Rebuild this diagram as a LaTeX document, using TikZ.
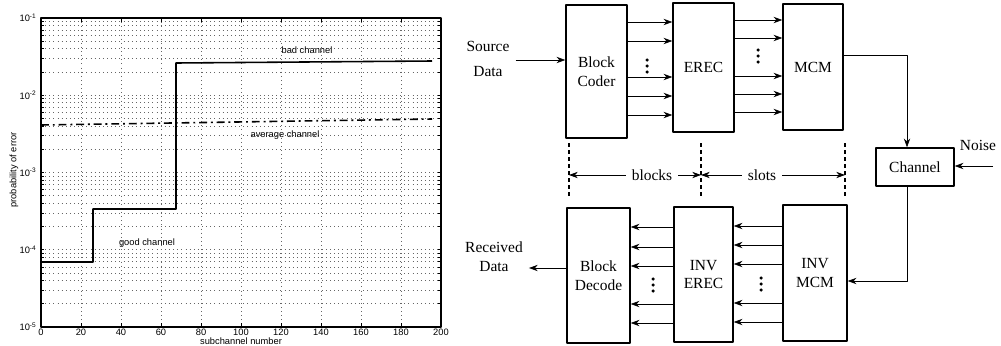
\documentclass[tikz,border=0pt]{standalone}
\usepackage{fontspec}
\setmainfont{Liberation Serif}
\newfontfamily\plotfont{Liberation Sans}
\usetikzlibrary{arrows.meta,calc}
\usetikzlibrary{positioning}
\tikzset{blk/.style={draw,line width=0.8pt,align=center,inner sep=0pt,minimum width=1.22cm,minimum height=2.62cm},
  gridln/.style={dotted,black!60,line width=0.35pt},
  plotlab/.style={font=\plotfont\fontsize{5.3}{6}\selectfont,inner sep=0pt}}

\begin{document}
\begin{tikzpicture}[x=0.02cm,y=-0.02cm,>={Stealth[length=5pt,width=3.6pt]},line join=round,font=\fontsize{8.8}{10.8}\selectfont]
\useasboundingbox (0,0) rectangle (1001,345);
% --- left: error probability of each subchannel (log scale)
\foreach \k in {-5,...,-2} \foreach \m in {1,...,9}
  \draw[gridln] (41,{327-77.25*(\k+5+log10(\m))}) -- (441,{327-77.25*(\k+5+log10(\m))});
\foreach \x in {20,40,...,180} \draw[gridln] ({41+2*\x},18) -- ({41+2*\x},327);
\foreach \k in {-5,...,-2} \foreach \m in {1,...,9}
  \draw (41,{327-77.25*(\k+5+log10(\m))}) -- ++(3,0) (441,{327-77.25*(\k+5+log10(\m))}) -- ++(-3,0);
\foreach \x in {0,20,...,200} {\draw ({41+2*\x},327) -- ++(0,-4) ({41+2*\x},18) -- ++(0,4);
  \node[plotlab] (xt\x) at ({41+2*\x},332.5) {\x};}
\foreach \k/\e in {0/5,1/4,2/3,3/2,4/1} \node[plotlab,anchor=east] (yt\e) at (37,{327-77.25*\k}) {10\textsuperscript{-\e}};
\draw[line width=0.8pt] (41,18) rectangle (441,327);
\draw[line width=0.9pt] (41,262) -- (93,262) -- (93,209) -- (176,209) -- (176,63) -- (432,61);
\draw[line width=0.9pt,dash pattern=on 4.5pt off 2.2pt on 1.1pt off 2.2pt] (41,125) -- (432,119);
\node[plotlab] (bad) at (307,50) {bad channel};
\node[plotlab] (avg) at (285,135) {average channel};
\node[plotlab] (good) at (147,243) {good channel};
\node[plotlab,rotate=90] (ylab) at (14,170) {probability of error};
\node[plotlab] (xlab) at (241,341.5) {subchannel number};
% --- right: transmitter, channel and receiver
\node[blk,minimum height=2.66cm] (coder) at (596.5,71.5) {Block\\Coder};
\node[blk,minimum height=2.58cm] (erec) at (703.5,67.5) {EREC};
\node[blk,minimum width=1.2cm,minimum height=2.52cm] (mcm) at (813,67) {MCM};
\node[blk,minimum width=1.26cm,minimum height=2.7cm] (decode) at (598.5,275.5) {Block\\Decode};
\node[blk,minimum width=1.18cm,minimum height=2.7cm] (inverec) at (703.5,274.5) {INV\\EREC};
\node[blk,minimum width=1.28cm,minimum height=2.72cm] (invmcm) at (815,273) {INV\\MCM};
\node[draw,line width=0.8pt,minimum width=1.56cm,minimum height=0.76cm] (chan) at (915,167) {Channel};
\foreach \y in {22,41,77,96,115} \draw[->] (coder.east |- 0,\y) -- (erec.west |- 0,\y);
\foreach \y in {20,38,76,94,112} \draw[->] (erec.east |- 0,\y) -- (mcm.west |- 0,\y);
\foreach \y in {227,247,266,304,323} \draw[->] (inverec.west |- 0,\y) -- (decode.east |- 0,\y);
\foreach \y in {226,245,264,303,322} \draw[->] (invmcm.west |- 0,\y) -- (inverec.east |- 0,\y);
\foreach \x/\y in {647/66,758/56,653/285,761/284} \foreach \d in {-6,0,6} \fill (\x,{\y+(\d)}) circle (0.035cm);
\node[align=center] (src) at (488,59) {Source\\[3pt]Data};
\draw[->] (src.east |- 0,60) -- (coder.west |- 0,60);
\node[align=center] (rcv) at (494,257) {Received\\Data};
\draw[->] (decode.west |- 0,268) -- (rcv.east |- 0,268);
\node (noise) at (978,145) {Noise};
\coordinate (nz) at (993,166);
\draw[->] (nz) -- (chan.east |- nz);
\draw[->] (mcm.east |- 0,55) -| ($(chan.north)+(-8,0)$);
\draw[->] ($(chan.south)+(-8,0)$) |- (invmcm.east |- 0,281);
% --- block / slot spans
\foreach \x in {569,701,845} \draw[line width=0.6pt,dash pattern=on 2pt off 2pt] (\x,143) -- (\x,197);
\coordinate (d1) at (569,175); \coordinate (d2) at (701,175); \coordinate (d3) at (845,175);
\node (blocks) at (652,175) {blocks};
\node (slots) at (762,175) {slots};
\draw[->] (blocks.west) -- (d1); \draw[->] (blocks.east) -- (d2);
\draw[->] (slots.west) -- (d2); \draw[->] (slots.east) -- (d3);
\end{tikzpicture}
\end{document}
